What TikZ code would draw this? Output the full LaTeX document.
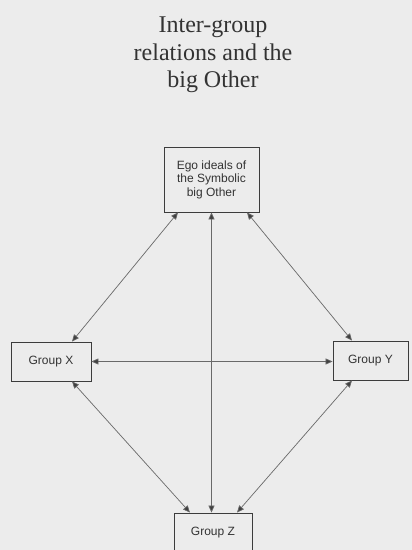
\documentclass[tikz,border=0pt]{standalone}
\usepackage{fontspec}
\setmainfont{Liberation Serif}
\setsansfont{Liberation Sans}
\usetikzlibrary{arrows.meta}
\definecolor{bg}{RGB}{236,236,236}
\definecolor{boxline}{RGB}{60,60,60}
\definecolor{conn}{RGB}{105,105,105}
\begin{document}
\begin{tikzpicture}[x=1pt,y=-1pt,
  box/.style={draw=boxline,line width=0.9pt,fill=bg,inner sep=0pt,font=\sffamily\fontsize{12}{13.5}\selectfont,align=center,text=black!80},
  link/.style={draw=conn,line width=0.7pt,{Triangle[length=7pt,width=6pt,fill=black!75]}-{Triangle[length=7pt,width=6pt,fill=black!75]},color=conn}]
\useasboundingbox[fill=bg] (0,0) rectangle (412,550);
\node[font=\fontsize{24}{27.5}\selectfont,align=center,inner sep=0pt,text=black!80] (title) at (213,55) {Inter-group\\relations and the\\big Other};
\node[box,minimum width=95pt,minimum height=65pt] (top) at (211.5,179.5) {Ego ideals of\\the Symbolic\\big Other};
\node[box,minimum width=80pt,minimum height=39pt] (gx) at (51,361.5) {Group X};
\node[box,minimum width=75pt,minimum height=39pt] (gy) at (370.5,360.5) {Group Y};
\node[box,minimum width=78pt,minimum height=39pt] (gz) at (213,532.5) {Group Z};
\draw[link] ([xshift=-33.5pt]top.south) -- ([xshift=21pt]gx.north);
\draw[link] ([xshift=35.5pt]top.south) -- ([xshift=-18.5pt]gy.north);
\draw[link] (top.south) -- (top.south |- gz.north);
\draw[link] (gx.east) -- (gx.east -| gy.west);
\draw[link] ([xshift=21pt]gx.south) -- ([xshift=-23pt]gz.north);
\draw[link] ([xshift=-18.5pt]gy.south) -- ([xshift=24pt]gz.north);
\end{tikzpicture}
\end{document}
